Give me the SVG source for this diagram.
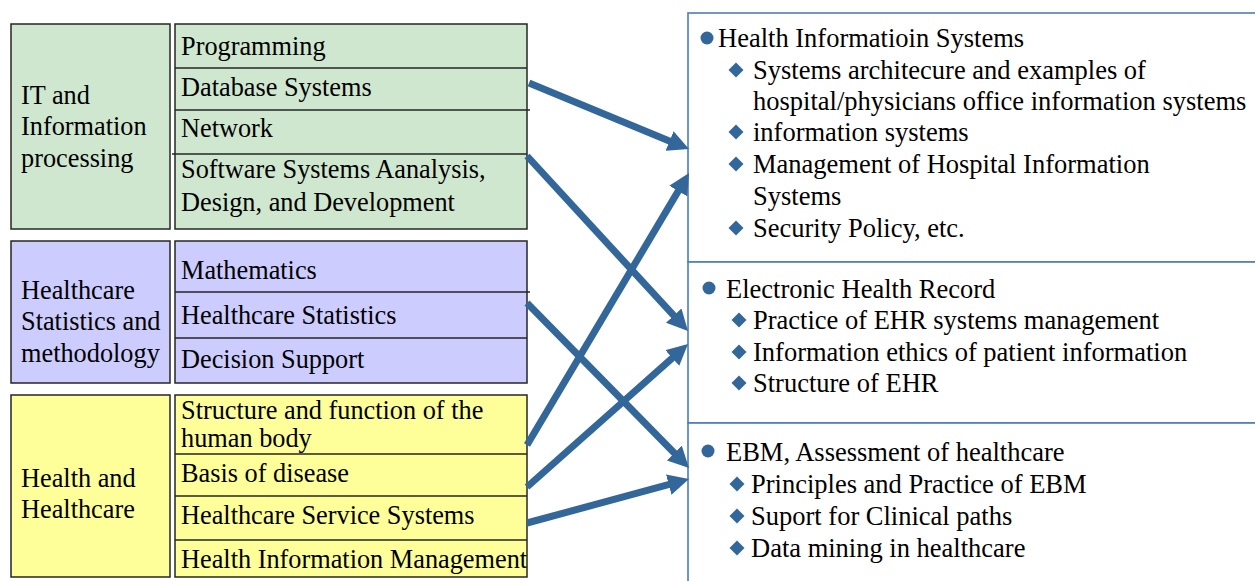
<svg xmlns="http://www.w3.org/2000/svg" width="1255" height="581" viewBox="0 0 1255 581">
  <style>
    text { font-family: "Liberation Serif", "Times New Roman", serif; font-size: 26.3px; fill: #000; }
    .wide { font-size: 26.5px; }
    .box { stroke: #262626; stroke-width: 1.5; }
    .sep { stroke: #262626; stroke-width: 1.5; fill: none; }
    .it { fill: #cfe7cf; }
    .st { fill: #ccccff; }
    .hc { fill: #ffff99; }
    .panel { fill: #fff; stroke: #4a7ebb; stroke-width: 1.6; }
    .bullet { fill: #336699; }
    .conn { stroke: #336699; stroke-width: 7; fill: none; marker-end: url(#head); }
  </style>
  <defs>
    <marker id="head" viewBox="0 0 10 10" refX="3" refY="5" markerWidth="3" markerHeight="3" orient="auto" markerUnits="strokeWidth">
      <path d="M0,0 L10,5 L0,10 z" fill="#336699"/>
    </marker>
    <path id="dia" d="M0,-7.5 L7.5,0 L0,7.5 L-7.5,0 z"/>
  </defs>

  <rect width="1255" height="581" fill="#fff"/>

  <!-- IT and Information processing -->
  <g id="it-group">
    <rect class="box it" x="11" y="24" width="159" height="205"/>
    <text x="21" y="104">IT and</text>
    <text x="21" y="135">Information</text>
    <text x="21" y="167">processing</text>
  </g>
  <g id="it-topics">
    <rect class="box it" x="175" y="24" width="352" height="205"/>
    <path class="sep" d="M175,68 H527 M175,110 H530 M172,154 H527"/>
    <text x="181" y="55">Programming</text>
    <text x="181" y="96">Database Systems</text>
    <text x="181" y="137">Network</text>
    <text x="181" y="178">Software Systems Aanalysis,</text>
    <text x="181" y="211">Design, and Development</text>
  </g>

  <!-- Healthcare Statistics and methodology -->
  <g id="stat-group">
    <rect class="box st" x="11" y="241" width="159" height="142"/>
    <text x="21" y="299">Healthcare</text>
    <text x="21" y="330">Statistics and</text>
    <text x="21" y="362">methodology</text>
  </g>
  <g id="stat-topics">
    <rect class="box st" x="175" y="241" width="352" height="142"/>
    <path class="sep" d="M175,292 H530 M175,338 H527"/>
    <text x="181" y="279">Mathematics</text>
    <text x="181" y="324">Healthcare Statistics</text>
    <text x="181" y="368">Decision Support</text>
  </g>

  <!-- Health and Healthcare -->
  <g id="health-group">
    <rect class="box hc" x="11" y="395" width="159" height="182"/>
    <text x="21" y="487">Health and</text>
    <text x="21" y="518">Healthcare</text>
  </g>
  <g id="health-topics">
    <rect class="box hc" x="175" y="395" width="352" height="182"/>
    <path class="sep" d="M175,454 H527 M175,496 H527 M175,540 H527"/>
    <text x="181" y="419">Structure and function of the</text>
    <text x="181" y="447">human body</text>
    <text x="181" y="482">Basis of disease</text>
    <text x="181" y="524">Healthcare Service Systems</text>
    <text x="181" y="568">Health Information Management</text>
  </g>

  <!-- Application areas -->
  <g id="his">
    <rect class="panel" x="688" y="13" width="580" height="249"/>
    <circle class="bullet" cx="707" cy="38" r="6.5"/>
    <text class="wide" x="718" y="47">Health Informatioin Systems</text>
    <use href="#dia" class="bullet" x="736" y="70"/>
    <text class="wide" x="753" y="79">Systems architecure and examples of</text>
    <text class="wide" x="753" y="110">hospital/physicians office information systems</text>
    <use href="#dia" class="bullet" x="736" y="132"/>
    <text class="wide" x="753" y="141">information systems</text>
    <use href="#dia" class="bullet" x="736" y="164"/>
    <text class="wide" x="753" y="173">Management of Hospital Information</text>
    <text class="wide" x="753" y="205">Systems</text>
    <use href="#dia" class="bullet" x="736" y="228"/>
    <text class="wide" x="753" y="237">Security Policy, etc.</text>
  </g>
  <g id="ehr">
    <rect class="panel" x="688" y="262" width="580" height="161"/>
    <circle class="bullet" cx="709" cy="288" r="6.5"/>
    <text class="wide" x="726" y="298">Electronic Health Record</text>
    <use href="#dia" class="bullet" x="739" y="320"/>
    <text class="wide" x="753" y="329">Practice of EHR systems management</text>
    <use href="#dia" class="bullet" x="739" y="352"/>
    <text class="wide" x="753" y="361">Information ethics of patient information</text>
    <use href="#dia" class="bullet" x="739" y="383"/>
    <text class="wide" x="753" y="392">Structure of EHR</text>
  </g>
  <g id="ebm">
    <rect class="panel" x="688" y="423" width="580" height="170"/>
    <circle class="bullet" cx="708" cy="451" r="6.5"/>
    <text class="wide" x="726" y="461">EBM, Assessment of healthcare</text>
    <use href="#dia" class="bullet" x="737" y="484"/>
    <text class="wide" x="751" y="493">Principles and Practice of EBM</text>
    <use href="#dia" class="bullet" x="737" y="516"/>
    <text class="wide" x="751" y="525">Suport for Clinical paths</text>
    <use href="#dia" class="bullet" x="737" y="548"/>
    <text class="wide" x="751" y="557">Data mining in healthcare</text>
  </g>

  <!-- Connectors -->
  <g id="connectors">
    <line class="conn" x1="529" y1="83" x2="675.4" y2="143.4"/>
    <line class="conn" x1="527" y1="156" x2="678.0" y2="320.2"/>
    <line class="conn" x1="527" y1="303" x2="678.7" y2="457.5"/>
    <line class="conn" x1="527" y1="445" x2="681.5" y2="185.6"/>
    <line class="conn" x1="527" y1="487" x2="677.0" y2="353.8"/>
    <line class="conn" x1="527" y1="523" x2="674.8" y2="482.9"/>
  </g>
</svg>
